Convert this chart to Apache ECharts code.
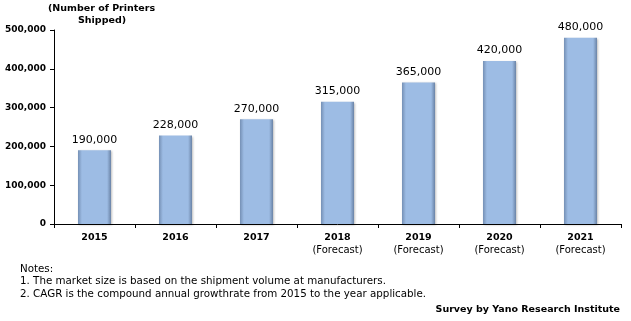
<!DOCTYPE html>
<html><head><meta charset="utf-8">
<script src="https://cdn.jsdelivr.net/npm/echarts@6/dist/echarts.min.js"></script>
<style>html,body{margin:0;padding:0;background:#fff}#c{width:631px;height:321px}</style>
</head><body><div id="c"></div>
<script>
const categories = ['2015','2016','2017','2018\n(Forecast)','2019\n(Forecast)','2020\n(Forecast)','2021\n(Forecast)'];
const shipments = [190000,228000,270000,315000,365000,420000,480000];
const yTicks = [0,100000,200000,300000,400000,500000];

const chart = echarts.init(document.getElementById('c'));
const fmt = v => v.toLocaleString('en-US');
chart.setOption({
  animation:false,
  grid:{left:54,right:10,top:30,bottom:97,containLabel:false},
  xAxis:{type:'category',data:categories,
    axisLine:{lineStyle:{color:'#000',width:1}},
    axisTick:{show:true,alignWithLabel:false,length:4,lineStyle:{color:'#000'}},
    axisLabel:{color:'#000',margin:8,interval:0,hideOverlap:false,
      formatter:v=>{const p=v.split('\n');return p.length>1?'{y|'+p[0]+'}\n{f|'+p[1]+'}':'{y|'+p[0]+'}';},
      rich:{y:{fontFamily:'DejaVu Sans',fontWeight:'bold',fontSize:9.5,lineHeight:12,color:'#000'},
            f:{fontFamily:'DejaVu Sans',fontSize:10,lineHeight:12,color:'#000'}}}},
  yAxis:{type:'value',min:0,max:500000,interval:100000,
    axisLine:{show:true,lineStyle:{color:'#000'}},
    axisTick:{show:true,length:4,lineStyle:{color:'#000'}},
    splitLine:{show:false},
    axisLabel:{color:'#000',fontFamily:'DejaVu Sans',fontWeight:'bold',fontSize:9,margin:8,formatter:v=>fmt(v)}},
  series:[{type:'bar',data:shipments,barWidth:33,
    itemStyle:{color:new echarts.graphic.LinearGradient(0,0,1,0,[
      {offset:0,color:'#7590b5'},{offset:0.12,color:'#9dbce4'},{offset:0.88,color:'#9dbce4'},{offset:1,color:'#6a83a6'}]),
      shadowColor:'rgba(0,0,0,0.25)',shadowBlur:2,shadowOffsetX:1,shadowOffsetY:1},
    label:{show:true,position:'top',distance:5,color:'#000',fontFamily:'DejaVu Sans',fontSize:11,formatter:p=>fmt(p.value)}}],
  graphic:[
    {type:'text',left:48,top:4,style:{text:'(Number of Printers',font:'bold 9.5px "DejaVu Sans"',fill:'#000'}},
    {type:'text',left:78,top:16,style:{text:'Shipped)',font:'bold 9.5px "DejaVu Sans"',fill:'#000'}},
    {type:'text',left:20,top:263,style:{text:'Notes:\n1. The market size is based on the shipment volume at manufacturers.\n2. CAGR is the compound annual growthrate from 2015 to the year applicable.',font:'10.3px "DejaVu Sans"',fill:'#000',lineHeight:12.5}},
    {type:'text',right:11,top:305,style:{text:'Survey by Yano Research Institute',font:'bold 9.5px "DejaVu Sans"',fill:'#000'}}
  ]
});
</script></body></html>
